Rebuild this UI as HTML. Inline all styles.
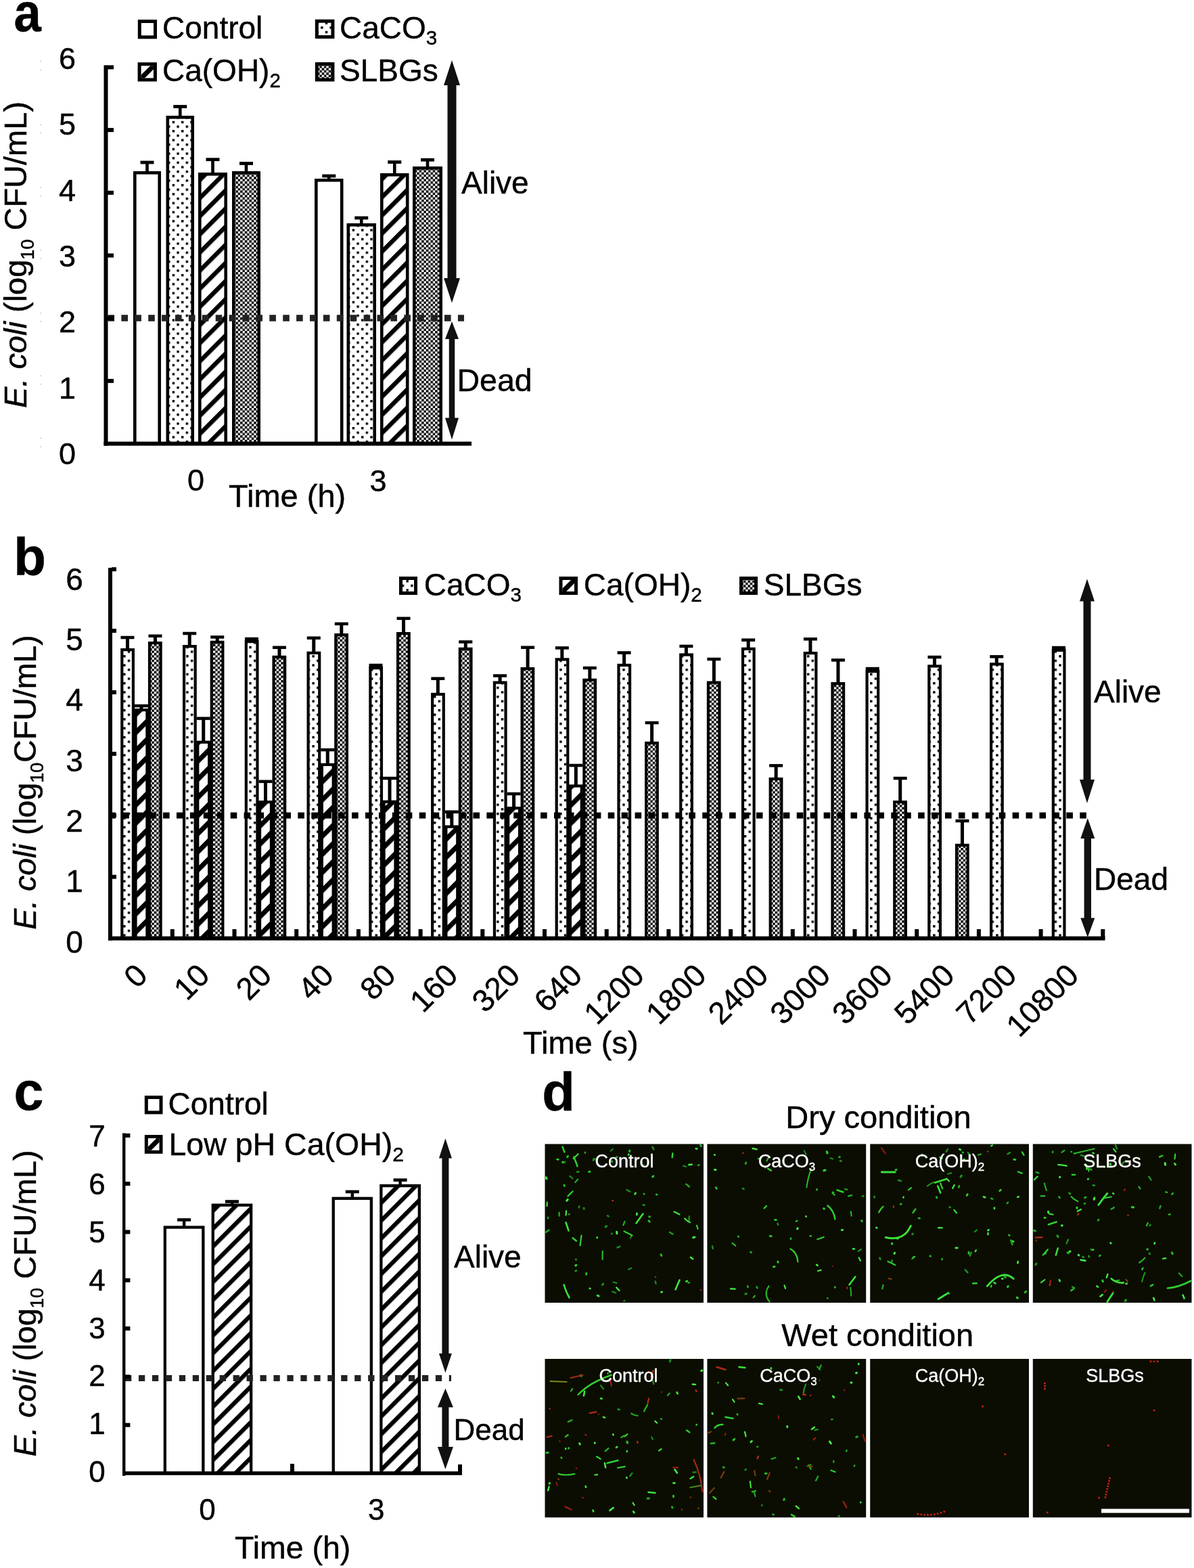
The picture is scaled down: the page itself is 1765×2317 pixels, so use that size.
<!DOCTYPE html><html><head><meta charset="utf-8"><title>Figure</title>
<style>html,body{margin:0;padding:0;background:#fff;overflow:hidden}svg{display:block}text{font-family:"Liberation Sans",Arial,sans-serif;fill:#000;stroke:#000;stroke-width:0.45px}</style></head><body>
<svg width="1765" height="2317" viewBox="0 0 1765 2317">
<defs><pattern id="dotsleg" patternUnits="userSpaceOnUse" x="0" y="0" width="10" height="10"><rect width="10" height="10" fill="#fff"/><rect x="1" y="1" width="3" height="3" fill="#000"/><rect x="6" y="6" width="3" height="3" fill="#000"/></pattern><pattern id="hatchleg" patternUnits="userSpaceOnUse" width="9" height="9" patternTransform="rotate(-45)"><rect width="9" height="9" fill="#fff"/><rect width="9" height="4" fill="#000"/></pattern>
<pattern id="dots" patternUnits="userSpaceOnUse" x="2.0" y="5.9" width="13.3" height="13.3"><rect width="13.3" height="13.3" fill="#fff"/><rect x="0" y="0" width="3.4" height="3.4" fill="#000"/><rect x="6.65" y="6.65" width="3.4" height="3.4" fill="#000"/></pattern>
<pattern id="dotsb" patternUnits="userSpaceOnUse" x="2.6" y="3.8" width="13.3" height="13.3"><rect width="13.3" height="13.3" fill="#fff"/><rect x="0" y="0" width="3.4" height="3.4" fill="#000"/><rect x="6.65" y="6.65" width="3.4" height="3.4" fill="#000"/></pattern>
<pattern id="hatch" patternUnits="userSpaceOnUse" width="18.95" height="18.95" patternTransform="translate(0,20.7) rotate(-45)"><rect width="18.95" height="18.95" fill="#fff"/><rect x="0" y="0" width="18.95" height="6.5" fill="#000"/></pattern>
<pattern id="hatchc" patternUnits="userSpaceOnUse" width="18.6" height="18.6" patternTransform="translate(0,21.65) rotate(-45)"><rect width="18.6" height="18.6" fill="#fff"/><rect x="0" y="0" width="18.6" height="6.3" fill="#000"/></pattern>
<pattern id="hatchb" patternUnits="userSpaceOnUse" width="18.95" height="18.95" patternTransform="translate(0,18.6) rotate(-45)"><rect width="18.95" height="18.95" fill="#fff"/><rect x="0" y="0" width="18.95" height="7.2" fill="#000"/></pattern>
<pattern id="check" patternUnits="userSpaceOnUse" width="6.7" height="6.7"><rect width="6.7" height="6.7" fill="#fff"/><rect x="0" y="0" width="3.5" height="3.5" fill="#000"/><rect x="3.35" y="3.35" width="3.5" height="3.5" fill="#000"/></pattern>
<filter id="soft" x="-5%" y="-5%" width="110%" height="110%"><feGaussianBlur stdDeviation="0.5"/></filter>
</defs>
<rect width="1765" height="2317" fill="#fff"/>
<text transform="translate(20.6,45.9) scale(0.905,1)" font-size="80" font-weight="bold">a</text>
<text transform="translate(38.5,376.5) rotate(-90)" font-size="47" text-anchor="middle"><tspan font-style="italic">E. coli</tspan> (log<tspan font-size="27" dy="11">10</tspan><tspan dy="-11"> CFU/mL)</tspan></text>
<text x="99.50" y="686.00" font-size="45" text-anchor="middle" >0</text>
<text x="99.50" y="588.67" font-size="45" text-anchor="middle" >1</text>
<text x="99.50" y="491.34" font-size="45" text-anchor="middle" >2</text>
<text x="99.50" y="394.01" font-size="45" text-anchor="middle" >3</text>
<text x="99.50" y="296.68" font-size="45" text-anchor="middle" >4</text>
<text x="99.50" y="199.35" font-size="45" text-anchor="middle" >5</text>
<text x="99.50" y="102.02" font-size="45" text-anchor="middle" >6</text>
<rect x="199.30" y="255.30" width="36.40" height="400.30" fill="#fff" stroke="#000" stroke-width="4.6"/>
<rect x="247.80" y="173.30" width="36.90" height="482.30" fill="url(#dots)" stroke="#000" stroke-width="4.6"/>
<rect x="295.30" y="257.30" width="38.40" height="398.30" fill="url(#hatch)" stroke="#000" stroke-width="4.6"/>
<rect x="345.30" y="255.30" width="37.40" height="400.30" fill="url(#check)" stroke="#000" stroke-width="4.6"/>
<rect x="467.30" y="266.30" width="37.90" height="389.30" fill="#fff" stroke="#000" stroke-width="4.6"/>
<rect x="514.80" y="332.30" width="38.90" height="323.30" fill="url(#dots)" stroke="#000" stroke-width="4.6"/>
<rect x="564.30" y="258.30" width="37.90" height="397.30" fill="url(#hatch)" stroke="#000" stroke-width="4.6"/>
<rect x="612.30" y="248.30" width="39.40" height="407.30" fill="url(#check)" stroke="#000" stroke-width="4.6"/>
<rect x="215.20" y="240.00" width="4.60" height="14.00" fill="#000" />
<rect x="207.50" y="237.60" width="20.00" height="4.80" fill="#000" />
<rect x="263.95" y="157.50" width="4.60" height="14.50" fill="#000" />
<rect x="256.25" y="155.10" width="20.00" height="4.80" fill="#000" />
<rect x="312.20" y="235.70" width="4.60" height="20.30" fill="#000" />
<rect x="304.50" y="233.30" width="20.00" height="4.80" fill="#000" />
<rect x="361.70" y="241.50" width="4.60" height="12.50" fill="#000" />
<rect x="354.00" y="239.10" width="20.00" height="4.80" fill="#000" />
<rect x="483.95" y="260.00" width="4.60" height="5.00" fill="#000" />
<rect x="476.25" y="257.60" width="20.00" height="4.80" fill="#000" />
<rect x="531.95" y="322.00" width="4.60" height="9.00" fill="#000" />
<rect x="524.25" y="319.60" width="20.00" height="4.80" fill="#000" />
<rect x="580.95" y="239.50" width="4.60" height="17.50" fill="#000" />
<rect x="573.25" y="237.10" width="20.00" height="4.80" fill="#000" />
<rect x="629.70" y="236.20" width="4.60" height="10.80" fill="#000" />
<rect x="622.00" y="233.80" width="20.00" height="4.80" fill="#000" />
<line x1="159.50" y1="470.00" x2="686.00" y2="470.00" stroke="#222" stroke-width="9.5" stroke-dasharray="9.6 10.3" stroke-dashoffset="0"/>
<rect x="153.50" y="96.40" width="6.00" height="562.20" fill="#000" />
<rect x="153.50" y="652.60" width="543.50" height="6.00" fill="#000" />
<rect x="159.00" y="559.90" width="9.00" height="6.00" fill="#000" />
<rect x="159.00" y="467.20" width="9.00" height="6.00" fill="#000" />
<rect x="159.00" y="374.50" width="9.00" height="6.00" fill="#000" />
<rect x="159.00" y="281.80" width="9.00" height="6.00" fill="#000" />
<rect x="159.00" y="189.10" width="9.00" height="6.00" fill="#000" />
<rect x="159.00" y="96.40" width="9.00" height="6.00" fill="#000" />
<path d="M668.00,89.00 L680.00,126.00 L674.50,126.00 L674.50,411.00 L680.00,411.00 L668.00,447.50 L656.00,411.00 L661.50,411.00 L661.50,126.00 L656.00,126.00 Z" fill="#111"/>
<path d="M668.00,475.00 L678.00,501.00 L672.25,501.00 L672.25,617.50 L678.00,617.50 L668.00,649.50 L658.00,617.50 L663.75,617.50 L663.75,501.00 L658.00,501.00 Z" fill="#111"/>
<text x="682.00" y="286.00" font-size="46" text-anchor="start" >Alive</text>
<text x="675.50" y="577.50" font-size="46.5" text-anchor="start" >Dead</text>
<text x="289.50" y="725.00" font-size="45" text-anchor="middle" >0</text>
<text x="559.00" y="726.00" font-size="45" text-anchor="middle" >3</text>
<text x="338.00" y="748.50" font-size="47" text-anchor="start" >Time (h)</text>
<rect x="206.30" y="31.50" width="23.20" height="23.40" fill="#fff" stroke="#000" stroke-width="5"/>
<rect x="468.30" y="31.20" width="23.60" height="23.40" fill="url(#dots)" stroke="#000" stroke-width="5"/>
<clipPath id="lc1"><rect x="208.60" y="97.20" width="18.30" height="18.20"/></clipPath>
<rect x="208.60" y="97.20" width="18.30" height="18.20" fill="#fff"/>
<polygon clip-path="url(#lc1)" points="178.60,140.75 256.90,62.45 256.90,72.45 178.60,150.75" fill="#000"/>
<rect x="206.10" y="94.70" width="23.30" height="23.20" fill="none" stroke="#000" stroke-width="5"/>
<rect x="468.30" y="94.50" width="23.60" height="23.40" fill="url(#check)" stroke="#000" stroke-width="5"/>
<text x="240.00" y="56.80" font-size="46" text-anchor="start" >Control</text>
<text x="502.00" y="56.80" font-size="46" text-anchor="start" >CaCO<tspan font-size="29.5" dy="9">3</tspan></text>
<text x="240.00" y="120.20" font-size="46" text-anchor="start" >Ca(OH)<tspan font-size="29.5" dy="9">2</tspan></text>
<text x="502.00" y="120.20" font-size="46" text-anchor="start" >SLBGs</text>
<rect x="59.60" y="89.90" width="1.30" height="1.30" fill="#aaa" />
<rect x="59.60" y="102.90" width="1.30" height="1.30" fill="#aaa" />
<rect x="59.60" y="183.60" width="1.30" height="1.30" fill="#aaa" />
<rect x="59.60" y="195.80" width="1.30" height="1.30" fill="#aaa" />
<rect x="59.60" y="276.40" width="1.30" height="1.30" fill="#aaa" />
<rect x="59.60" y="288.60" width="1.30" height="1.30" fill="#aaa" />
<rect x="59.60" y="369.20" width="1.30" height="1.30" fill="#aaa" />
<rect x="59.60" y="381.40" width="1.30" height="1.30" fill="#aaa" />
<rect x="59.60" y="462.10" width="1.30" height="1.30" fill="#aaa" />
<rect x="59.60" y="474.30" width="1.30" height="1.30" fill="#aaa" />
<rect x="59.60" y="554.60" width="1.30" height="1.30" fill="#aaa" />
<rect x="59.60" y="567.10" width="1.30" height="1.30" fill="#aaa" />
<rect x="59.60" y="646.90" width="1.30" height="1.30" fill="#aaa" />
<rect x="59.60" y="659.40" width="1.30" height="1.30" fill="#aaa" />
<text x="20.30" y="849.80" font-size="78" text-anchor="start" font-weight="bold">b</text>
<text transform="translate(52.7,1156) rotate(-90)" font-size="46.5" text-anchor="middle"><tspan font-style="italic">E. coli</tspan> (log<tspan font-size="27" dy="11">10</tspan><tspan dy="-11">CFU/mL)</tspan></text>
<text x="110.00" y="1407.80" font-size="46" text-anchor="middle" >0</text>
<text x="110.00" y="1318.47" font-size="46" text-anchor="middle" >1</text>
<text x="110.00" y="1229.14" font-size="46" text-anchor="middle" >2</text>
<text x="110.00" y="1139.81" font-size="46" text-anchor="middle" >3</text>
<text x="110.00" y="1050.48" font-size="46" text-anchor="middle" >4</text>
<text x="110.00" y="961.15" font-size="46" text-anchor="middle" >5</text>
<text x="110.00" y="871.82" font-size="46" text-anchor="middle" >6</text>
<rect x="180.30" y="960.10" width="16.60" height="426.50" fill="url(#dotsb)" stroke="#000" stroke-width="4.2"/>
<rect x="200.50" y="1049.10" width="16.90" height="337.50" fill="url(#hatchb)" stroke="#000" stroke-width="4.2"/>
<rect x="221.00" y="950.10" width="16.60" height="436.50" fill="url(#check)" stroke="#000" stroke-width="4.2"/>
<rect x="272.07" y="955.10" width="16.60" height="431.50" fill="url(#dotsb)" stroke="#000" stroke-width="4.2"/>
<rect x="292.27" y="1096.70" width="16.90" height="289.90" fill="url(#hatchb)" stroke="#000" stroke-width="4.2"/>
<rect x="312.77" y="948.90" width="16.60" height="437.70" fill="url(#check)" stroke="#000" stroke-width="4.2"/>
<rect x="363.84" y="948.10" width="16.60" height="438.50" fill="url(#dotsb)" stroke="#000" stroke-width="4.2"/>
<rect x="384.04" y="1185.10" width="16.90" height="201.50" fill="url(#hatchb)" stroke="#000" stroke-width="4.2"/>
<rect x="404.54" y="970.85" width="16.60" height="415.75" fill="url(#check)" stroke="#000" stroke-width="4.2"/>
<rect x="455.61" y="964.80" width="16.60" height="421.80" fill="url(#dotsb)" stroke="#000" stroke-width="4.2"/>
<rect x="475.81" y="1129.90" width="16.90" height="256.70" fill="url(#hatchb)" stroke="#000" stroke-width="4.2"/>
<rect x="496.31" y="938.10" width="16.60" height="448.50" fill="url(#check)" stroke="#000" stroke-width="4.2"/>
<rect x="547.38" y="987.10" width="16.60" height="399.50" fill="url(#dotsb)" stroke="#000" stroke-width="4.2"/>
<rect x="567.58" y="1184.70" width="16.90" height="201.90" fill="url(#hatchb)" stroke="#000" stroke-width="4.2"/>
<rect x="588.08" y="936.10" width="16.60" height="450.50" fill="url(#check)" stroke="#000" stroke-width="4.2"/>
<rect x="639.15" y="1025.90" width="16.60" height="360.70" fill="url(#dotsb)" stroke="#000" stroke-width="4.2"/>
<rect x="659.35" y="1221.60" width="16.90" height="165.00" fill="url(#hatchb)" stroke="#000" stroke-width="4.2"/>
<rect x="679.85" y="958.80" width="16.60" height="427.80" fill="url(#check)" stroke="#000" stroke-width="4.2"/>
<rect x="730.92" y="1008.60" width="16.60" height="378.00" fill="url(#dotsb)" stroke="#000" stroke-width="4.2"/>
<rect x="751.12" y="1194.10" width="16.90" height="192.50" fill="url(#hatchb)" stroke="#000" stroke-width="4.2"/>
<rect x="771.62" y="988.10" width="16.60" height="398.50" fill="url(#check)" stroke="#000" stroke-width="4.2"/>
<rect x="822.69" y="974.40" width="16.60" height="412.20" fill="url(#dotsb)" stroke="#000" stroke-width="4.2"/>
<rect x="842.89" y="1161.40" width="16.90" height="225.20" fill="url(#hatchb)" stroke="#000" stroke-width="4.2"/>
<rect x="863.39" y="1004.80" width="16.60" height="381.80" fill="url(#check)" stroke="#000" stroke-width="4.2"/>
<rect x="914.46" y="982.90" width="16.60" height="403.70" fill="url(#dotsb)" stroke="#000" stroke-width="4.2"/>
<rect x="955.16" y="1097.90" width="16.60" height="288.70" fill="url(#check)" stroke="#000" stroke-width="4.2"/>
<rect x="1006.23" y="967.50" width="16.60" height="419.10" fill="url(#dotsb)" stroke="#000" stroke-width="4.2"/>
<rect x="1046.93" y="1008.60" width="16.60" height="378.00" fill="url(#check)" stroke="#000" stroke-width="4.2"/>
<rect x="1098.00" y="958.80" width="16.60" height="427.80" fill="url(#dotsb)" stroke="#000" stroke-width="4.2"/>
<rect x="1138.70" y="1151.00" width="16.60" height="235.60" fill="url(#check)" stroke="#000" stroke-width="4.2"/>
<rect x="1189.77" y="965.10" width="16.60" height="421.50" fill="url(#dotsb)" stroke="#000" stroke-width="4.2"/>
<rect x="1230.47" y="1010.10" width="16.60" height="376.50" fill="url(#check)" stroke="#000" stroke-width="4.2"/>
<rect x="1281.54" y="992.10" width="16.60" height="394.50" fill="url(#dotsb)" stroke="#000" stroke-width="4.2"/>
<rect x="1322.24" y="1185.10" width="16.60" height="201.50" fill="url(#check)" stroke="#000" stroke-width="4.2"/>
<rect x="1373.31" y="984.40" width="16.60" height="402.20" fill="url(#dotsb)" stroke="#000" stroke-width="4.2"/>
<rect x="1414.01" y="1248.90" width="16.60" height="137.70" fill="url(#check)" stroke="#000" stroke-width="4.2"/>
<rect x="1465.08" y="981.40" width="16.60" height="405.20" fill="url(#dotsb)" stroke="#000" stroke-width="4.2"/>
<rect x="1556.85" y="960.90" width="16.60" height="425.70" fill="url(#dotsb)" stroke="#000" stroke-width="4.2"/>
<rect x="185.95" y="942.00" width="5.00" height="17.00" fill="#000" />
<rect x="178.45" y="939.75" width="20.00" height="4.50" fill="#000" />
<rect x="206.45" y="1043.00" width="5.00" height="5.00" fill="#000" />
<rect x="198.95" y="1040.75" width="20.00" height="4.50" fill="#000" />
<rect x="226.95" y="939.75" width="5.00" height="9.25" fill="#000" />
<rect x="219.45" y="937.50" width="20.00" height="4.50" fill="#000" />
<rect x="277.72" y="936.00" width="5.00" height="18.00" fill="#000" />
<rect x="270.22" y="933.75" width="20.00" height="4.50" fill="#000" />
<rect x="298.22" y="1061.60" width="5.00" height="34.00" fill="#000" />
<rect x="290.72" y="1059.35" width="20.00" height="4.50" fill="#000" />
<rect x="318.72" y="941.40" width="5.00" height="6.40" fill="#000" />
<rect x="311.22" y="939.15" width="20.00" height="4.50" fill="#000" />
<rect x="369.49" y="944.00" width="5.00" height="3.00" fill="#000" />
<rect x="361.99" y="941.75" width="20.00" height="4.50" fill="#000" />
<rect x="389.99" y="1154.80" width="5.00" height="29.20" fill="#000" />
<rect x="382.49" y="1152.55" width="20.00" height="4.50" fill="#000" />
<rect x="410.49" y="956.75" width="5.00" height="13.00" fill="#000" />
<rect x="402.99" y="954.50" width="20.00" height="4.50" fill="#000" />
<rect x="461.26" y="942.70" width="5.00" height="21.00" fill="#000" />
<rect x="453.76" y="940.45" width="20.00" height="4.50" fill="#000" />
<rect x="481.76" y="1108.00" width="5.00" height="20.80" fill="#000" />
<rect x="474.26" y="1105.75" width="20.00" height="4.50" fill="#000" />
<rect x="502.26" y="921.80" width="5.00" height="15.20" fill="#000" />
<rect x="494.76" y="919.55" width="20.00" height="4.50" fill="#000" />
<rect x="553.03" y="983.00" width="5.00" height="3.00" fill="#000" />
<rect x="545.53" y="980.75" width="20.00" height="4.50" fill="#000" />
<rect x="573.53" y="1150.00" width="5.00" height="33.60" fill="#000" />
<rect x="566.03" y="1147.75" width="20.00" height="4.50" fill="#000" />
<rect x="594.03" y="913.80" width="5.00" height="21.20" fill="#000" />
<rect x="586.53" y="911.55" width="20.00" height="4.50" fill="#000" />
<rect x="644.80" y="1002.70" width="5.00" height="22.10" fill="#000" />
<rect x="637.30" y="1000.45" width="20.00" height="4.50" fill="#000" />
<rect x="665.30" y="1199.70" width="5.00" height="20.80" fill="#000" />
<rect x="657.80" y="1197.45" width="20.00" height="4.50" fill="#000" />
<rect x="685.80" y="948.50" width="5.00" height="9.20" fill="#000" />
<rect x="678.30" y="946.25" width="20.00" height="4.50" fill="#000" />
<rect x="736.57" y="998.50" width="5.00" height="9.00" fill="#000" />
<rect x="729.07" y="996.25" width="20.00" height="4.50" fill="#000" />
<rect x="757.07" y="1173.00" width="5.00" height="20.00" fill="#000" />
<rect x="749.57" y="1170.75" width="20.00" height="4.50" fill="#000" />
<rect x="777.57" y="956.70" width="5.00" height="30.30" fill="#000" />
<rect x="770.07" y="954.45" width="20.00" height="4.50" fill="#000" />
<rect x="828.34" y="957.40" width="5.00" height="15.90" fill="#000" />
<rect x="820.84" y="955.15" width="20.00" height="4.50" fill="#000" />
<rect x="848.84" y="1131.00" width="5.00" height="29.30" fill="#000" />
<rect x="841.34" y="1128.75" width="20.00" height="4.50" fill="#000" />
<rect x="869.34" y="987.00" width="5.00" height="16.70" fill="#000" />
<rect x="861.84" y="984.75" width="20.00" height="4.50" fill="#000" />
<rect x="920.11" y="964.50" width="5.00" height="17.30" fill="#000" />
<rect x="912.61" y="962.25" width="20.00" height="4.50" fill="#000" />
<rect x="961.11" y="1068.00" width="5.00" height="28.80" fill="#000" />
<rect x="953.61" y="1065.75" width="20.00" height="4.50" fill="#000" />
<rect x="1011.88" y="954.90" width="5.00" height="11.50" fill="#000" />
<rect x="1004.38" y="952.65" width="20.00" height="4.50" fill="#000" />
<rect x="1052.88" y="974.00" width="5.00" height="33.50" fill="#000" />
<rect x="1045.38" y="971.75" width="20.00" height="4.50" fill="#000" />
<rect x="1103.65" y="945.70" width="5.00" height="12.00" fill="#000" />
<rect x="1096.15" y="943.45" width="20.00" height="4.50" fill="#000" />
<rect x="1144.65" y="1131.30" width="5.00" height="18.60" fill="#000" />
<rect x="1137.15" y="1129.05" width="20.00" height="4.50" fill="#000" />
<rect x="1195.42" y="944.30" width="5.00" height="19.70" fill="#000" />
<rect x="1187.92" y="942.05" width="20.00" height="4.50" fill="#000" />
<rect x="1236.42" y="975.40" width="5.00" height="33.60" fill="#000" />
<rect x="1228.92" y="973.15" width="20.00" height="4.50" fill="#000" />
<rect x="1287.19" y="988.00" width="5.00" height="3.00" fill="#000" />
<rect x="1279.69" y="985.75" width="20.00" height="4.50" fill="#000" />
<rect x="1328.19" y="1150.00" width="5.00" height="34.00" fill="#000" />
<rect x="1320.69" y="1147.75" width="20.00" height="4.50" fill="#000" />
<rect x="1378.96" y="971.00" width="5.00" height="12.30" fill="#000" />
<rect x="1371.46" y="968.75" width="20.00" height="4.50" fill="#000" />
<rect x="1419.96" y="1213.00" width="5.00" height="34.80" fill="#000" />
<rect x="1412.46" y="1210.75" width="20.00" height="4.50" fill="#000" />
<rect x="1470.73" y="970.30" width="5.00" height="10.00" fill="#000" />
<rect x="1463.23" y="968.05" width="20.00" height="4.50" fill="#000" />
<rect x="1562.50" y="957.00" width="5.00" height="2.80" fill="#000" />
<rect x="1555.00" y="954.75" width="20.00" height="4.50" fill="#000" />
<line x1="166.00" y1="1205.00" x2="1607.00" y2="1205.00" stroke="#000" stroke-width="9.2" stroke-dasharray="9.6 10.33" stroke-dashoffset="4.7"/>
<rect x="160.00" y="839.00" width="6.00" height="550.60" fill="#000" />
<rect x="160.00" y="1383.60" width="1473.50" height="6.00" fill="#000" />
<rect x="165.00" y="1292.70" width="7.00" height="6.00" fill="#000" />
<rect x="165.00" y="1201.80" width="7.00" height="6.00" fill="#000" />
<rect x="165.00" y="1110.90" width="7.00" height="6.00" fill="#000" />
<rect x="165.00" y="1020.00" width="7.00" height="6.00" fill="#000" />
<rect x="165.00" y="929.10" width="7.00" height="6.00" fill="#000" />
<rect x="165.00" y="838.20" width="7.00" height="6.00" fill="#000" />
<rect x="251.80" y="1373.00" width="6.00" height="13.60" fill="#000" />
<rect x="343.50" y="1373.00" width="6.00" height="13.60" fill="#000" />
<rect x="435.20" y="1373.00" width="6.00" height="13.60" fill="#000" />
<rect x="526.90" y="1373.00" width="6.00" height="13.60" fill="#000" />
<rect x="618.60" y="1373.00" width="6.00" height="13.60" fill="#000" />
<rect x="710.30" y="1373.00" width="6.00" height="13.60" fill="#000" />
<rect x="802.00" y="1373.00" width="6.00" height="13.60" fill="#000" />
<rect x="893.70" y="1373.00" width="6.00" height="13.60" fill="#000" />
<rect x="985.40" y="1373.00" width="6.00" height="13.60" fill="#000" />
<rect x="1077.10" y="1373.00" width="6.00" height="13.60" fill="#000" />
<rect x="1168.80" y="1373.00" width="6.00" height="13.60" fill="#000" />
<rect x="1260.50" y="1373.00" width="6.00" height="13.60" fill="#000" />
<rect x="1352.20" y="1373.00" width="6.00" height="13.60" fill="#000" />
<rect x="1443.90" y="1373.00" width="6.00" height="13.60" fill="#000" />
<rect x="1535.60" y="1373.00" width="6.00" height="13.60" fill="#000" />
<rect x="1627.30" y="1373.00" width="6.00" height="13.60" fill="#000" />
<path d="M1607.00,855.50 L1618.00,888.50 L1612.50,888.50 L1612.50,1152.00 L1618.00,1152.00 L1607.00,1186.70 L1596.00,1152.00 L1601.50,1152.00 L1601.50,888.50 L1596.00,888.50 Z" fill="#111"/>
<path d="M1607.80,1209.00 L1618.30,1239.00 L1613.00,1239.00 L1613.00,1356.50 L1618.30,1356.50 L1607.80,1385.00 L1597.30,1356.50 L1602.60,1356.50 L1602.60,1239.00 L1597.30,1239.00 Z" fill="#111"/>
<text x="1617.00" y="1038.00" font-size="46" text-anchor="start" >Alive</text>
<text x="1617.00" y="1314.50" font-size="46" text-anchor="start" >Dead</text>
<text transform="translate(220.60,1444.00) rotate(-45)" font-size="46" text-anchor="end">0</text>
<text transform="translate(312.37,1444.00) rotate(-45)" font-size="46" text-anchor="end">10</text>
<text transform="translate(404.14,1444.00) rotate(-45)" font-size="46" text-anchor="end">20</text>
<text transform="translate(495.91,1444.00) rotate(-45)" font-size="46" text-anchor="end">40</text>
<text transform="translate(587.68,1444.00) rotate(-45)" font-size="46" text-anchor="end">80</text>
<text transform="translate(679.45,1444.00) rotate(-45)" font-size="46" text-anchor="end">160</text>
<text transform="translate(771.22,1444.00) rotate(-45)" font-size="46" text-anchor="end">320</text>
<text transform="translate(862.99,1444.00) rotate(-45)" font-size="46" text-anchor="end">640</text>
<text transform="translate(954.76,1444.00) rotate(-45)" font-size="46" text-anchor="end">1200</text>
<text transform="translate(1046.53,1444.00) rotate(-45)" font-size="46" text-anchor="end">1800</text>
<text transform="translate(1138.30,1444.00) rotate(-45)" font-size="46" text-anchor="end">2400</text>
<text transform="translate(1230.07,1444.00) rotate(-45)" font-size="46" text-anchor="end">3000</text>
<text transform="translate(1321.84,1444.00) rotate(-45)" font-size="46" text-anchor="end">3600</text>
<text transform="translate(1413.61,1444.00) rotate(-45)" font-size="46" text-anchor="end">5400</text>
<text transform="translate(1505.38,1444.00) rotate(-45)" font-size="46" text-anchor="end">7200</text>
<text transform="translate(1597.15,1444.00) rotate(-45)" font-size="46" text-anchor="end">10800</text>
<text x="773.00" y="1556.50" font-size="47" text-anchor="start" >Time (s)</text>
<rect x="592.50" y="854.50" width="22.00" height="22.00" fill="url(#dots)" stroke="#000" stroke-width="5"/>
<clipPath id="lc2"><rect x="831.50" y="857.00" width="17.50" height="17.00"/></clipPath>
<rect x="831.50" y="857.00" width="17.50" height="17.00" fill="#fff"/>
<polygon clip-path="url(#lc2)" points="801.50,899.55 879.00,822.05 879.00,832.05 801.50,909.55" fill="#000"/>
<rect x="829.00" y="854.50" width="22.50" height="22.00" fill="none" stroke="#000" stroke-width="5"/>
<rect x="1095.50" y="854.50" width="22.00" height="22.00" fill="url(#check)" stroke="#000" stroke-width="5"/>
<text x="626.80" y="880.00" font-size="46" text-anchor="start" >CaCO<tspan font-size="29.5" dy="9">3</tspan></text>
<text x="862.80" y="880.00" font-size="46" text-anchor="start" >Ca(OH)<tspan font-size="29.5" dy="9">2</tspan></text>
<text x="1128.80" y="880.00" font-size="46" text-anchor="start" >SLBGs</text>
<text x="20.50" y="1639.70" font-size="79" text-anchor="start" font-weight="bold">c</text>
<text transform="translate(53,1926) rotate(-90)" font-size="47" text-anchor="middle"><tspan font-style="italic">E. coli</tspan> (log<tspan font-size="27" dy="11">10</tspan><tspan dy="-11"> CFU/mL)</tspan></text>
<text x="143.50" y="2190.00" font-size="44" text-anchor="middle" >0</text>
<text x="143.50" y="2119.20" font-size="44" text-anchor="middle" >1</text>
<text x="143.50" y="2048.40" font-size="44" text-anchor="middle" >2</text>
<text x="143.50" y="1977.60" font-size="44" text-anchor="middle" >3</text>
<text x="143.50" y="1906.80" font-size="44" text-anchor="middle" >4</text>
<text x="143.50" y="1836.00" font-size="44" text-anchor="middle" >5</text>
<text x="143.50" y="1765.20" font-size="44" text-anchor="middle" >6</text>
<text x="143.50" y="1694.40" font-size="44" text-anchor="middle" >7</text>
<rect x="243.85" y="1813.55" width="56.50" height="363.45" fill="#fff" stroke="#000" stroke-width="4.3"/>
<rect x="314.75" y="1780.75" width="56.40" height="396.25" fill="url(#hatchc)" stroke="#000" stroke-width="4.3"/>
<rect x="492.75" y="1770.85" width="56.10" height="406.15" fill="#fff" stroke="#000" stroke-width="4.3"/>
<rect x="563.35" y="1752.15" width="56.50" height="424.85" fill="url(#hatchc)" stroke="#000" stroke-width="4.3"/>
<rect x="269.90" y="1802.50" width="4.40" height="9.90" fill="#000" />
<rect x="262.10" y="1800.20" width="20.00" height="4.60" fill="#000" />
<rect x="340.75" y="1775.50" width="4.40" height="4.10" fill="#000" />
<rect x="332.95" y="1773.20" width="20.00" height="4.60" fill="#000" />
<rect x="518.60" y="1761.00" width="4.40" height="8.70" fill="#000" />
<rect x="510.80" y="1758.70" width="20.00" height="4.60" fill="#000" />
<rect x="589.40" y="1743.70" width="4.40" height="7.30" fill="#000" />
<rect x="581.60" y="1741.40" width="20.00" height="4.60" fill="#000" />
<line x1="185.00" y1="2036.50" x2="667.00" y2="2036.50" stroke="#222" stroke-width="9" stroke-dasharray="9.3 10.65" stroke-dashoffset="0"/>
<rect x="181.00" y="1674.50" width="4.40" height="506.30" fill="#000" />
<rect x="181.00" y="2174.25" width="502.00" height="5.50" fill="#000" />
<rect x="184.00" y="2102.70" width="8.40" height="6.00" fill="#000" />
<rect x="184.00" y="2031.40" width="8.40" height="6.00" fill="#000" />
<rect x="184.00" y="1960.10" width="8.40" height="6.00" fill="#000" />
<rect x="184.00" y="1888.80" width="8.40" height="6.00" fill="#000" />
<rect x="184.00" y="1817.50" width="8.40" height="6.00" fill="#000" />
<rect x="184.00" y="1746.20" width="8.40" height="6.00" fill="#000" />
<rect x="184.00" y="1674.90" width="8.40" height="6.00" fill="#000" />
<rect x="429.00" y="2163.00" width="6.00" height="14.00" fill="#000" />
<rect x="677.00" y="2164.00" width="6.00" height="13.00" fill="#000" />
<path d="M658.40,1682.30 L667.90,1711.60 L663.40,1711.60 L663.40,2000.00 L667.90,2000.00 L658.40,2028.40 L648.90,2000.00 L653.40,2000.00 L653.40,1711.60 L648.90,1711.60 Z" fill="#111"/>
<path d="M658.40,2051.70 L669.90,2079.60 L663.40,2079.60 L663.40,2138.00 L669.90,2138.00 L658.40,2171.00 L646.90,2138.00 L653.40,2138.00 L653.40,2079.60 L646.90,2079.60 Z" fill="#111"/>
<text x="671.00" y="1872.50" font-size="46" text-anchor="start" >Alive</text>
<text x="670.50" y="2127.50" font-size="44" text-anchor="start" >Dead</text>
<text x="306.50" y="2246.00" font-size="44" text-anchor="middle" >0</text>
<text x="556.30" y="2246.00" font-size="44" text-anchor="middle" >3</text>
<text x="347.00" y="2303.00" font-size="46.5" text-anchor="start" >Time (h)</text>
<rect x="216.30" y="1621.50" width="21.70" height="22.40" fill="#fff" stroke="#000" stroke-width="5"/>
<clipPath id="lc3"><rect x="218.80" y="1682.00" width="16.70" height="17.80"/></clipPath>
<rect x="218.80" y="1682.00" width="16.70" height="17.80" fill="#fff"/>
<polygon clip-path="url(#lc3)" points="188.80,1724.55 265.50,1647.85 265.50,1657.85 188.80,1734.55" fill="#000"/>
<rect x="216.30" y="1679.50" width="21.70" height="22.80" fill="none" stroke="#000" stroke-width="5"/>
<text x="248.50" y="1646.50" font-size="46" text-anchor="start" >Control</text>
<text x="249.50" y="1706.50" font-size="46.5" text-anchor="start" >Low pH Ca(OH)<tspan font-size="30" dy="9">2</tspan></text>
<text x="801.20" y="1641.00" font-size="79.5" text-anchor="start" font-weight="bold">d</text>
<text x="1298.50" y="1667.30" font-size="47" text-anchor="middle" >Dry condition</text>
<text x="1297.20" y="1988.60" font-size="47" text-anchor="middle" >Wet condition</text>
<rect x="805.50" y="1690.50" width="234.50" height="234.50" fill="#0b0d02" />
<svg x="805.50" y="1690.50" width="234.50" height="234.50" overflow="hidden"><g filter="url(#soft)" fill="none" stroke-linecap="round">
<path d="M106.1,129.9 L106.5,132.2" stroke="#45ee45" stroke-width="3.1"/><path d="M46.4,186.9 L45.2,187.7" stroke="#23a523" stroke-width="2.5"/><path d="M72.4,21.9 L71.5,23.9" stroke="#1d8f1d" stroke-width="2.9"/><path d="M92.4,105.9 L94.2,106.9" stroke="#1d8f1d" stroke-width="2.4"/><path d="M123.9,15.3 L123.7,16.1" stroke="#2fcf2f" stroke-width="3.0"/><path d="M77.4,137.8 L77.0,138.6" stroke="#2fcf2f" stroke-width="2.8"/><path d="M155.2,107.4 L154.2,107.4" stroke="#23a523" stroke-width="3.1"/><path d="M164.7,74.6 L165.6,74.7" stroke="#28b828" stroke-width="2.9"/><path d="M27.4,26.8 L26.3,26.9" stroke="#3de23d" stroke-width="3.1"/><path d="M1.7,49.3 L2.6,51.4" stroke="#45ee45" stroke-width="3.0"/><path d="M98.5,132.2 L99.1,132.9" stroke="#1d8f1d" stroke-width="2.5"/><path d="M77.7,223.8 L79.6,224.6" stroke="#3de23d" stroke-width="3.0"/><path d="M4.7,108.4 L4.4,109.9" stroke="#1d8f1d" stroke-width="2.8"/><path d="M45.8,170.3 L46.1,171.1" stroke="#1d8f1d" stroke-width="2.7"/><path d="M229.6,1.2 L230.9,3.0" stroke="#23a523" stroke-width="3.1"/><path d="M50.8,91.8 L50.3,94.0" stroke="#1d8f1d" stroke-width="2.4"/><path d="M35.6,103.6 L35.9,104.0" stroke="#23a523" stroke-width="2.6"/><path d="M18.1,22.7 L19.8,22.8" stroke="#2fcf2f" stroke-width="2.7"/><path d="M144.6,31.0 L146.2,31.7" stroke="#23a523" stroke-width="2.7"/><path d="M146.2,73.3 L146.9,74.0" stroke="#23a523" stroke-width="2.6"/><path d="M172.9,218.6 L172.0,218.9" stroke="#45ee45" stroke-width="2.9"/><path d="M98.9,25.7 L99.4,26.1" stroke="#28b828" stroke-width="3.0"/><path d="M61.3,191.0 L61.2,192.7" stroke="#28b828" stroke-width="3.1"/><path d="M227.9,30.8 L226.6,31.5" stroke="#1d8f1d" stroke-width="2.9"/><path d="M66.1,213.4 L67.0,213.5" stroke="#3de23d" stroke-width="2.7"/><path d="M59.5,12.2 L59.3,13.3" stroke="#23a523" stroke-width="2.5"/><path d="M86.3,206.4 L84.7,208.3" stroke="#1d8f1d" stroke-width="2.8"/><path d="M221.4,137.6 L219.1,138.3" stroke="#45ee45" stroke-width="3.0"/><path d="M223.1,6.7 L224.8,7.1" stroke="#45ee45" stroke-width="2.6"/><path d="M34.0,18.2 L33.0,19.2" stroke="#28b828" stroke-width="3.1"/><path d="M171.4,163.3 L172.4,165.1" stroke="#28b828" stroke-width="2.9"/><path d="M210.2,202.5 L209.0,203.1" stroke="#3de23d" stroke-width="2.9"/><path d="M145.2,89.9 L146.9,90.3" stroke="#23a523" stroke-width="2.5"/><path d="M28.4,60.7 L28.9,61.9" stroke="#28b828" stroke-width="3.0"/><path d="M136.0,102.5 L135.8,104.6" stroke="#3de23d" stroke-width="2.8"/><path d="M73.3,22.1 L73.8,22.3" stroke="#1d8f1d" stroke-width="3.0"/><path d="M153.5,113.2 L154.8,115.0" stroke="#28b828" stroke-width="2.9"/><path d="M49.8,40.8 L47.6,41.3" stroke="#1d8f1d" stroke-width="2.8"/><path d="M57.6,94.8 L57.8,95.8" stroke="#1d8f1d" stroke-width="3.0"/><path d="M213.3,204.7 L212.1,205.1" stroke="#23a523" stroke-width="2.6"/><path d="M33.7,81.9 L32.3,83.7" stroke="#3de23d" stroke-width="3.2"/><path d="M66.5,40.8 L65.1,41.1" stroke="#28b828" stroke-width="3.1"/><path d="M91.0,121.4 L89.4,122.3" stroke="#1d8f1d" stroke-width="3.2"/><path d="M106.0,19.2 L106.6,19.3" stroke="#23a523" stroke-width="3.0"/><path d="M134.0,72.3 L133.1,74.2" stroke="#3de23d" stroke-width="2.7"/><path d="M46.2,179.0 L45.4,179.6" stroke="#2fcf2f" stroke-width="3.2"/><path d="M29.2,26.7 L27.9,27.6" stroke="#1d8f1d" stroke-width="3.2"/><path d="M160.2,47.4 L159.3,48.5" stroke="#2fcf2f" stroke-width="3.0"/><path d="M125.3,9.9 L125.2,10.8" stroke="#28b828" stroke-width="3.2"/><path d="M117.7,231.6 L117.0,231.9" stroke="#1d8f1d" stroke-width="2.5"/><path d="M215.4,167.4 L218.6,169.7" stroke="#45ee45" stroke-width="2.5"/><path d="M5.9,127.1 L1.2,130.5" stroke="#23a523" stroke-width="2.6"/><path d="M110.8,151.3 L107.0,153.0" stroke="#1d8f1d" stroke-width="2.5"/><path d="M217.2,30.3 L212.9,30.6" stroke="#45ee45" stroke-width="2.6"/><path d="M127.8,183.3 L123.7,185.3" stroke="#1d8f1d" stroke-width="2.2"/><path d="M21.0,100.9 L21.2,106.3" stroke="#28b828" stroke-width="2.0"/><path d="M188.8,13.6 L188.2,19.9" stroke="#2fcf2f" stroke-width="2.4"/><path d="M213.3,107.0 L212.9,114.0" stroke="#1d8f1d" stroke-width="2.4"/><path d="M100.8,204.1 L106.1,205.6" stroke="#1d8f1d" stroke-width="2.1"/><path d="M120.8,67.4 L126.0,70.4" stroke="#1d8f1d" stroke-width="2.3"/><path d="M208.8,59.3 L213.4,62.9" stroke="#23a523" stroke-width="2.5"/><path d="M224.5,120.2 L226.0,125.5" stroke="#2fcf2f" stroke-width="2.1"/><path d="M3.3,86.2 L3.0,91.6" stroke="#3de23d" stroke-width="2.2"/><path d="M184.4,130.4 L188.9,133.0" stroke="#1d8f1d" stroke-width="2.6"/><path d="M105.7,211.9 L109.9,216.6" stroke="#45ee45" stroke-width="2.3"/><path d="M31.5,98.8 L31.0,105.1" stroke="#45ee45" stroke-width="2.1"/><path d="M100.4,7.4 L97.0,10.2" stroke="#1d8f1d" stroke-width="2.0"/><path d="M48.6,52.1 L44.8,56.6" stroke="#28b828" stroke-width="2.1"/><path d="M118.0,114.6 L115.9,119.7" stroke="#23a523" stroke-width="2.4"/><path d="M163.2,202.8 L164.1,206.3" stroke="#1d8f1d" stroke-width="2.3"/><path d="M36.6,47.3 L41.0,50.9" stroke="#1d8f1d" stroke-width="2.1"/><path d="M127.9,135.4 L126.4,139.1" stroke="#1d8f1d" stroke-width="2.2"/><path d="M41.2,138.9 L46.3,143.1" stroke="#2fcf2f" stroke-width="2.6"/><path d="M204.5,32.3 L208.7,33.5" stroke="#1d8f1d" stroke-width="2.2"/><path d="M99.7,217.9 L104.7,220.0" stroke="#1d8f1d" stroke-width="2.2"/><path d="M159.0,4.2 L160.9,8.0" stroke="#1d8f1d" stroke-width="2.5"/><path d="M85.3,158.3 Q84.7,164.4 85.2,170.5" stroke="#28b828" stroke-width="2.2"/><path d="M49.1,15.0 Q45.3,18.0 42.1,21.5" stroke="#3de23d" stroke-width="2.2"/><path d="M206.6,110.0 Q210.0,113.8 214.6,115.9" stroke="#3de23d" stroke-width="2.2"/><path d="M230.0,215.5 L230.5,215.8" stroke="#a01c12" stroke-width="2.2"/><path d="M158.9,19.7 L159.0,20.1" stroke="#b82a18" stroke-width="2.2"/><path d="M99.8,83.7 L100.8,83.7" stroke="#b82a18" stroke-width="2.2"/><path d="M163.5,196.1 L163.7,197.1" stroke="#7a3a10" stroke-width="2.2"/><path d="M135,117 L145,103" stroke="#3be03b" stroke-width="2.6"/><path d="M28,208 Q31,218 36,227" stroke="#3be03b" stroke-width="2.6"/><path d="M193,215 L199,201" stroke="#40e840" stroke-width="2.6"/><path d="M52,150 L54,135" stroke="#2fcf2f" stroke-width="2.2"/><path d="M117,129 L129,135" stroke="#2fcf2f" stroke-width="2.2"/><path d="M191,100 L199,104" stroke="#3be03b" stroke-width="2.4"/><path d="M34,77 L41,70" stroke="#2fcf2f" stroke-width="2.4"/><path d="M43,19 L48,33" stroke="#2fcf2f" stroke-width="2.4"/><path d="M26,4 L29,12" stroke="#2fcf2f" stroke-width="2.4"/><path d="M31,116 L35,128" stroke="#3be03b" stroke-width="2.6"/>
</g></svg>
<text x="923.0" y="1724.5" font-size="27" text-anchor="middle" style="fill:#fff;stroke:#fff;stroke-width:0.35px">Control</text>
<rect x="1045.40" y="1690.50" width="234.80" height="234.50" fill="#0b0d02" />
<svg x="1045.40" y="1690.50" width="234.80" height="234.50" overflow="hidden"><g filter="url(#soft)" fill="none" stroke-linecap="round">
<path d="M172.2,95.3 L173.1,95.6" stroke="#2fcf2f" stroke-width="3.0"/><path d="M77.8,21.3 L75.6,21.8" stroke="#1d8f1d" stroke-width="2.9"/><path d="M45.7,136.3 L46.4,137.2" stroke="#28b828" stroke-width="2.5"/><path d="M174.6,38.5 L172.4,39.3" stroke="#2fcf2f" stroke-width="3.1"/><path d="M161.6,178.2 L163.2,179.5" stroke="#45ee45" stroke-width="2.5"/><path d="M186.4,71.5 L185.7,71.5" stroke="#28b828" stroke-width="3.1"/><path d="M12.8,63.9 L14.0,66.0" stroke="#28b828" stroke-width="2.9"/><path d="M133.7,124.3 L133.2,125.5" stroke="#45ee45" stroke-width="3.0"/><path d="M177.6,227.8 L178.1,228.0" stroke="#23a523" stroke-width="2.6"/><path d="M104.0,117.4 L104.8,119.3" stroke="#1d8f1d" stroke-width="2.5"/><path d="M59.7,210.0 L60.1,211.5" stroke="#23a523" stroke-width="2.8"/><path d="M196.7,24.8 L198.0,25.1" stroke="#1d8f1d" stroke-width="2.9"/><path d="M176.8,11.3 L177.6,13.5" stroke="#2fcf2f" stroke-width="3.2"/><path d="M200.3,126.8 L198.7,127.1" stroke="#45ee45" stroke-width="2.7"/><path d="M123.5,139.2 L123.6,140.4" stroke="#28b828" stroke-width="2.6"/><path d="M215.5,154.9 L217.5,155.0" stroke="#3de23d" stroke-width="2.6"/><path d="M10.9,37.9 L12.9,38.3" stroke="#45ee45" stroke-width="2.7"/><path d="M92.9,135.9 L94.8,136.3" stroke="#28b828" stroke-width="3.1"/><path d="M99.9,111.9 L102.3,112.3" stroke="#2fcf2f" stroke-width="2.5"/><path d="M189.1,211.3 L188.9,212.0" stroke="#2fcf2f" stroke-width="2.5"/><path d="M145.9,106.6 L146.3,107.4" stroke="#3de23d" stroke-width="2.5"/><path d="M85.4,33.7 L86.3,34.7" stroke="#23a523" stroke-width="2.9"/><path d="M99.6,181.2 L98.1,181.4" stroke="#2fcf2f" stroke-width="3.0"/><path d="M57.5,27.2 L56.6,29.3" stroke="#23a523" stroke-width="2.7"/><path d="M64.0,159.4 L65.3,160.4" stroke="#23a523" stroke-width="2.6"/><path d="M58.0,221.2 L56.5,221.6" stroke="#1d8f1d" stroke-width="3.1"/><path d="M10.6,16.0 L11.6,16.1" stroke="#45ee45" stroke-width="2.4"/><path d="M52.5,65.7 L54.2,66.6" stroke="#1d8f1d" stroke-width="2.6"/><path d="M228.2,113.0 L228.8,114.1" stroke="#28b828" stroke-width="3.0"/><path d="M195.9,19.0 L195.2,19.3" stroke="#23a523" stroke-width="3.0"/><path d="M104.3,173.7 L104.8,174.8" stroke="#2fcf2f" stroke-width="2.9"/><path d="M231.0,76.6 L229.6,77.4" stroke="#1d8f1d" stroke-width="2.5"/><path d="M152.2,135.7 L153.6,136.0" stroke="#28b828" stroke-width="2.5"/><path d="M133.0,113.3 L131.4,114.3" stroke="#28b828" stroke-width="2.4"/><path d="M73.1,211.2 L74.1,212.6" stroke="#1d8f1d" stroke-width="3.0"/><path d="M162.4,66.9 L162.0,67.6" stroke="#28b828" stroke-width="2.7"/><path d="M213.6,75.7 L208.7,77.0" stroke="#23a523" stroke-width="2.6"/><path d="M212.4,99.8 L213.2,106.1" stroke="#28b828" stroke-width="2.1"/><path d="M224.2,167.8 L226.5,172.6" stroke="#3de23d" stroke-width="2.2"/><path d="M87.5,91.4 L84.2,95.0" stroke="#2fcf2f" stroke-width="2.2"/><path d="M89.7,36.2 L94.4,39.1" stroke="#2fcf2f" stroke-width="2.5"/><path d="M203.6,66.6 L207.1,67.2" stroke="#23a523" stroke-width="2.1"/><path d="M67.1,6.5 L73.4,7.8" stroke="#45ee45" stroke-width="2.3"/><path d="M182.1,20.8 L185.7,22.0" stroke="#1d8f1d" stroke-width="2.2"/><path d="M7.5,150.8 L8.5,154.5" stroke="#1d8f1d" stroke-width="2.4"/><path d="M114.1,209.0 L115.6,213.4" stroke="#45ee45" stroke-width="2.2"/><path d="M227.6,155.5 L223.3,158.5" stroke="#23a523" stroke-width="2.0"/><path d="M143.3,9.9 L146.1,15.4" stroke="#1d8f1d" stroke-width="2.0"/><path d="M90.3,20.3 L88.1,24.9" stroke="#23a523" stroke-width="2.3"/><path d="M168.3,186.3 L163.5,187.6" stroke="#45ee45" stroke-width="2.1"/><path d="M37.1,146.6 L41.8,150.2" stroke="#28b828" stroke-width="2.3"/><path d="M70.6,224.1 L68.2,226.9" stroke="#28b828" stroke-width="2.2"/><path d="M34.6,213.8 L41.2,214.2" stroke="#45ee45" stroke-width="2.3"/><path d="M185.1,72.7 L188.4,75.4" stroke="#28b828" stroke-width="2.1"/><path d="M172.3,137.5 Q167.6,139.4 162.8,140.7" stroke="#2fcf2f" stroke-width="2.2"/><path d="M211.8,212.0 Q212.9,218.0 212.6,224.1" stroke="#23a523" stroke-width="2.2"/><path d="M206.8,211.7 L206.9,213.7" stroke="#a01c12" stroke-width="2.2"/><path d="M53.5,13.4 L52.5,13.5" stroke="#7a3a10" stroke-width="2.2"/><path d="M185.7,180.4 L185.2,180.5" stroke="#8a1a10" stroke-width="2.2"/><path d="M178,91 Q187,98 189,111" stroke="#2fcf2f" stroke-width="2.4"/><path d="M123,155 Q133,160 134,174" stroke="#2fcf2f" stroke-width="2.2"/><path d="M91,210 Q83,222 92,233" stroke="#28b828" stroke-width="2.2"/><path d="M210,208 L219,196" stroke="#3be03b" stroke-width="2.6"/><path d="M147,64 Q149,48 154,37" stroke="#28b828" stroke-width="2"/><path d="M192,68 L201,71" stroke="#2fcf2f" stroke-width="2.4"/>
</g></svg>
<text x="1163.0" y="1724.5" font-size="27" text-anchor="middle" style="fill:#fff;stroke:#fff;stroke-width:0.35px">CaCO<tspan font-size="17" dy="5">3</tspan></text>
<rect x="1286.20" y="1690.50" width="234.80" height="234.50" fill="#0b0d02" />
<svg x="1286.20" y="1690.50" width="234.80" height="234.50" overflow="hidden"><g filter="url(#soft)" fill="none" stroke-linecap="round">
<path d="M204.2,210.1 L203.3,211.2" stroke="#2fcf2f" stroke-width="2.9"/><path d="M38.9,38.0 L37.8,38.3" stroke="#28b828" stroke-width="3.0"/><path d="M32.4,172.1 L32.2,173.8" stroke="#23a523" stroke-width="2.5"/><path d="M180.7,1.7 L178.9,2.9" stroke="#2fcf2f" stroke-width="2.5"/><path d="M64.5,166.9 L64.1,167.4" stroke="#45ee45" stroke-width="2.5"/><path d="M175.4,126.8 L174.2,127.7" stroke="#3de23d" stroke-width="2.7"/><path d="M212.5,22.8 L214.7,23.1" stroke="#2fcf2f" stroke-width="2.7"/><path d="M115.4,219.2 L116.7,221.2" stroke="#28b828" stroke-width="2.5"/><path d="M71.6,109.5 L73.5,109.9" stroke="#28b828" stroke-width="2.5"/><path d="M156.6,156.9 L155.6,158.7" stroke="#3de23d" stroke-width="2.4"/><path d="M88.6,165.5 L89.5,165.8" stroke="#23a523" stroke-width="3.0"/><path d="M198.7,196.2 L200.4,197.1" stroke="#23a523" stroke-width="2.9"/><path d="M218.6,173.6 L218.2,176.0" stroke="#45ee45" stroke-width="2.5"/><path d="M45.9,88.7 L45.2,88.9" stroke="#28b828" stroke-width="2.9"/><path d="M168.0,78.1 L170.1,78.8" stroke="#3de23d" stroke-width="2.9"/><path d="M32.2,146.9 L32.5,147.7" stroke="#2fcf2f" stroke-width="3.1"/><path d="M139.3,22.7 L138.3,22.8" stroke="#2fcf2f" stroke-width="2.7"/><path d="M179.0,80.3 L181.0,81.2" stroke="#23a523" stroke-width="2.6"/><path d="M36.4,160.7 L35.9,162.0" stroke="#45ee45" stroke-width="3.0"/><path d="M144.0,74.3 L143.0,76.1" stroke="#2fcf2f" stroke-width="2.9"/><path d="M6.2,77.7 L6.4,78.9" stroke="#1d8f1d" stroke-width="2.8"/><path d="M49.5,78.2 L49.1,79.2" stroke="#3de23d" stroke-width="2.5"/><path d="M179.2,209.4 L178.6,210.9" stroke="#28b828" stroke-width="2.8"/><path d="M135.2,46.7 L133.8,48.6" stroke="#1d8f1d" stroke-width="3.1"/><path d="M132.1,7.8 L133.8,8.5" stroke="#3de23d" stroke-width="2.8"/><path d="M98.1,78.6 L98.6,79.1" stroke="#28b828" stroke-width="3.1"/><path d="M106.5,169.7 L106.3,170.7" stroke="#23a523" stroke-width="2.8"/><path d="M131.7,61.8 L131.0,64.0" stroke="#28b828" stroke-width="2.5"/><path d="M193.2,67.7 L191.5,69.3" stroke="#2fcf2f" stroke-width="2.7"/><path d="M39.2,139.6 L41.3,139.8" stroke="#45ee45" stroke-width="2.5"/><path d="M230.5,217.9 L229.1,219.2" stroke="#28b828" stroke-width="3.1"/><path d="M210.4,143.4 L212.0,144.2" stroke="#3de23d" stroke-width="2.7"/><path d="M9.3,123.5 L9.9,123.9" stroke="#45ee45" stroke-width="2.8"/><path d="M63.3,132.6 L62.4,133.3" stroke="#1d8f1d" stroke-width="3.0"/><path d="M183.7,94.2 L183.8,95.7" stroke="#3de23d" stroke-width="2.7"/><path d="M145.9,159.9 L146.0,161.9" stroke="#28b828" stroke-width="3.2"/><path d="M194.9,198.9 L196.1,199.3" stroke="#45ee45" stroke-width="2.5"/><path d="M219.4,77.9 L218.0,78.4" stroke="#45ee45" stroke-width="2.7"/><path d="M14.2,168.2 L15.1,170.3" stroke="#1d8f1d" stroke-width="2.7"/><path d="M183.2,205.0 L185.3,205.9" stroke="#2fcf2f" stroke-width="2.8"/><path d="M117.7,93.3 L118.3,93.5" stroke="#1d8f1d" stroke-width="3.1"/><path d="M129.0,153.4 L126.6,153.4" stroke="#3de23d" stroke-width="3.0"/><path d="M203.8,86.5 L202.5,87.5" stroke="#23a523" stroke-width="2.6"/><path d="M174.4,131.5 L174.2,133.8" stroke="#3de23d" stroke-width="2.5"/><path d="M205.1,134.3 L206.1,135.2" stroke="#28b828" stroke-width="2.6"/><path d="M76.6,15.4 L77.3,17.5" stroke="#23a523" stroke-width="2.7"/><path d="M137.0,12.3 L137.3,12.8" stroke="#28b828" stroke-width="2.8"/><path d="M217.0,226.8 L218.1,227.7" stroke="#2fcf2f" stroke-width="3.1"/><path d="M164.0,14.9 L159.6,16.3" stroke="#28b828" stroke-width="2.0"/><path d="M149.7,160.4 L147.5,165.4" stroke="#23a523" stroke-width="2.1"/><path d="M206.8,12.5 L203.5,14.6" stroke="#1d8f1d" stroke-width="2.6"/><path d="M67.1,96.2 L63.3,101.6" stroke="#28b828" stroke-width="2.6"/><path d="M102.8,19.4 L106.7,21.0" stroke="#28b828" stroke-width="2.4"/><path d="M66.2,166.4 L62.0,169.6" stroke="#28b828" stroke-width="2.2"/><path d="M157.6,205.7 L152.0,206.1" stroke="#2fcf2f" stroke-width="2.5"/><path d="M41.8,53.5 L45.6,54.6" stroke="#1d8f1d" stroke-width="2.6"/><path d="M101.0,123.7 L106.3,123.8" stroke="#3de23d" stroke-width="2.4"/><path d="M124.3,97.5 L127.7,101.7" stroke="#2fcf2f" stroke-width="2.5"/><path d="M60.9,64.7 L56.6,68.0" stroke="#2fcf2f" stroke-width="2.1"/><path d="M208.0,142.2 L210.4,148.5" stroke="#23a523" stroke-width="2.6"/><path d="M120.0,42.7 L114.8,44.2" stroke="#1d8f1d" stroke-width="2.2"/><path d="M114.8,7.5 L112.4,11.3" stroke="#1d8f1d" stroke-width="2.3"/><path d="M218.7,41.0 L224.5,43.2" stroke="#2fcf2f" stroke-width="2.3"/><path d="M158.0,126.9 L154.5,129.6" stroke="#1d8f1d" stroke-width="2.1"/><path d="M113.0,51.0 L116.8,55.0" stroke="#45ee45" stroke-width="2.1"/><path d="M224.7,11.9 L227.3,16.3" stroke="#2fcf2f" stroke-width="2.4"/><path d="M140.7,185.9 L144.2,189.8" stroke="#1d8f1d" stroke-width="2.5"/><path d="M19.4,208.5 L18.1,213.8" stroke="#23a523" stroke-width="2.4"/><path d="M144.5,12.4 L147.2,16.5" stroke="#1d8f1d" stroke-width="2.4"/><path d="M124.5,60.5 L122.0,65.5" stroke="#3de23d" stroke-width="2.3"/><path d="M94.4,56.3 Q89.0,58.5 84.5,62.1" stroke="#1d8f1d" stroke-width="2.2"/><path d="M19.3,92.3 Q15.0,95.8 12.9,101.0" stroke="#2fcf2f" stroke-width="2.2"/><path d="M26.2,173.5 Q31.7,176.0 37.0,178.8" stroke="#2fcf2f" stroke-width="2.2"/><path d="M174.4,10.9 L173.5,11.2" stroke="#7a3a10" stroke-width="2.2"/><path d="M34.4,91.6 L34.9,93.5" stroke="#7a3a10" stroke-width="2.2"/><path d="M16.7,5.9 L22.6,13.9" stroke="#8a1a10" stroke-width="2.2"/><path d="M27.5,198.6 L31.4,199.7" stroke="#7a3a10" stroke-width="2.2"/><path d="M23,138 Q50,144 60,121" stroke="#3be03b" stroke-width="3"/><path d="M173,210 Q195,184 212,199" stroke="#3be03b" stroke-width="2.8"/><path d="M17,41.5 L37,41.5" stroke="#3be03b" stroke-width="2.8"/><path d="M96,57 L112,52" stroke="#3be03b" stroke-width="2.8"/><path d="M101,229 L114,221" stroke="#3be03b" stroke-width="2.8"/><path d="M100,62 L104,72" stroke="#3be03b" stroke-width="2.6"/><path d="M107,66 L104,58" stroke="#2fcf2f" stroke-width="2.2"/>
</g></svg>
<text x="1404.0" y="1724.5" font-size="27" text-anchor="middle" style="fill:#fff;stroke:#fff;stroke-width:0.35px">Ca(OH)<tspan font-size="17" dy="5">2</tspan></text>
<rect x="1526.80" y="1690.50" width="234.70" height="234.50" fill="#0b0d02" />
<svg x="1526.80" y="1690.50" width="234.70" height="234.50" overflow="hidden"><g filter="url(#soft)" fill="none" stroke-linecap="round">
<path d="M53.5,72.4 L55.3,73.9" stroke="#23a523" stroke-width="2.5"/><path d="M137.6,230.5 L136.4,232.1" stroke="#23a523" stroke-width="3.1"/><path d="M139.0,206.2 L137.6,206.5" stroke="#45ee45" stroke-width="2.6"/><path d="M88.8,13.0 L89.9,13.7" stroke="#2fcf2f" stroke-width="2.8"/><path d="M40.1,48.6 L39.5,49.3" stroke="#45ee45" stroke-width="2.8"/><path d="M114.7,146.2 L115.4,146.7" stroke="#45ee45" stroke-width="2.7"/><path d="M19.0,160.8 L18.6,161.9" stroke="#28b828" stroke-width="2.8"/><path d="M173.6,119.4 L172.6,120.7" stroke="#1d8f1d" stroke-width="2.6"/><path d="M84.2,36.9 L86.4,37.9" stroke="#28b828" stroke-width="2.6"/><path d="M195.4,28.3 L195.8,30.7" stroke="#45ee45" stroke-width="3.1"/><path d="M88.9,60.9 L91.1,61.3" stroke="#1d8f1d" stroke-width="2.7"/><path d="M56.6,11.3 L57.3,11.6" stroke="#23a523" stroke-width="2.6"/><path d="M97.3,111.6 L96.2,113.1" stroke="#23a523" stroke-width="2.6"/><path d="M169.7,155.4 L169.0,155.8" stroke="#2fcf2f" stroke-width="2.8"/><path d="M105.1,33.0 L106.3,34.0" stroke="#28b828" stroke-width="2.6"/><path d="M81.8,51.5 L81.4,51.9" stroke="#3de23d" stroke-width="2.8"/><path d="M5.1,176.7 L4.1,178.4" stroke="#1d8f1d" stroke-width="3.1"/><path d="M51.2,160.2 L52.6,161.5" stroke="#28b828" stroke-width="2.9"/><path d="M22.7,99.9 L22.8,101.2" stroke="#3de23d" stroke-width="3.1"/><path d="M67.3,163.8 L68.0,164.4" stroke="#45ee45" stroke-width="3.0"/><path d="M82.5,165.5 L83.3,166.9" stroke="#1d8f1d" stroke-width="2.7"/><path d="M36.2,135.5 L37.3,137.1" stroke="#23a523" stroke-width="3.1"/><path d="M209.5,28.9 L211.0,30.6" stroke="#45ee45" stroke-width="2.7"/><path d="M196.4,70.9 L198.3,71.4" stroke="#28b828" stroke-width="2.4"/><path d="M77.2,87.8 L76.1,88.2" stroke="#1d8f1d" stroke-width="2.9"/><path d="M91.0,79.6 L90.4,81.8" stroke="#3de23d" stroke-width="3.2"/><path d="M180.3,145.8 L179.7,147.4" stroke="#45ee45" stroke-width="2.5"/><path d="M17.1,108.9 L18.5,109.0" stroke="#45ee45" stroke-width="2.5"/><path d="M118.4,72.9 L119.5,73.4" stroke="#3de23d" stroke-width="2.6"/><path d="M55.2,158.7 L54.2,158.9" stroke="#3de23d" stroke-width="3.2"/><path d="M1.7,127.8 L3.9,128.4" stroke="#23a523" stroke-width="3.1"/><path d="M205.5,160.4 L206.5,162.2" stroke="#28b828" stroke-width="3.1"/><path d="M73.5,166.6 L75.1,167.5" stroke="#1d8f1d" stroke-width="2.6"/><path d="M38.6,78.0 L39.7,79.5" stroke="#23a523" stroke-width="2.7"/><path d="M86.1,155.5 L87.2,156.5" stroke="#1d8f1d" stroke-width="2.7"/><path d="M43.4,120.4 L42.6,120.4" stroke="#3de23d" stroke-width="3.1"/><path d="M207.1,72.8 L205.5,74.2" stroke="#23a523" stroke-width="2.8"/><path d="M39.0,200.7 L40.0,202.7" stroke="#3de23d" stroke-width="2.7"/><path d="M172.2,161.6 L172.9,162.3" stroke="#1d8f1d" stroke-width="3.0"/><path d="M78.3,78.4 L76.5,79.5" stroke="#23a523" stroke-width="2.9"/><path d="M99.7,164.4 L98.3,165.5" stroke="#28b828" stroke-width="2.5"/><path d="M89.4,156.2 L88.5,156.3" stroke="#2fcf2f" stroke-width="2.8"/><path d="M162.7,183.3 L161.4,185.2" stroke="#28b828" stroke-width="2.7"/><path d="M146.5,93.3 L148.8,93.6" stroke="#2fcf2f" stroke-width="3.0"/><path d="M29.4,11.2 L29.2,12.3" stroke="#1d8f1d" stroke-width="3.0"/><path d="M94.4,210.0 L96.3,211.1" stroke="#45ee45" stroke-width="2.5"/><path d="M102.9,201.6 L103.5,203.3" stroke="#2fcf2f" stroke-width="2.9"/><path d="M178.1,227.7 L179.1,228.5" stroke="#1d8f1d" stroke-width="2.6"/><path d="M203.0,103.7 L200.9,104.2" stroke="#23a523" stroke-width="2.6"/><path d="M114.3,29.3 L115.0,30.2" stroke="#3de23d" stroke-width="2.9"/><path d="M65.1,93.7 L65.2,94.8" stroke="#3de23d" stroke-width="2.7"/><path d="M62.0,13.5 L61.7,14.1" stroke="#28b828" stroke-width="2.4"/><path d="M79.4,31.1 L79.7,37.3" stroke="#45ee45" stroke-width="2.2"/><path d="M188.8,91.5 L187.5,95.0" stroke="#23a523" stroke-width="2.5"/><path d="M62.5,45.4 L58.0,45.5" stroke="#2fcf2f" stroke-width="2.3"/><path d="M196.4,168.7 L192.3,169.5" stroke="#3de23d" stroke-width="2.3"/><path d="M156.7,63.0 L158.7,66.0" stroke="#23a523" stroke-width="2.3"/><path d="M7.0,48.1 L1.9,52.7" stroke="#3de23d" stroke-width="2.2"/><path d="M60.7,213.6 L56.4,216.6" stroke="#28b828" stroke-width="2.5"/><path d="M178.5,227.4 L179.7,231.1" stroke="#45ee45" stroke-width="2.4"/><path d="M58.2,210.9 L61.4,212.4" stroke="#23a523" stroke-width="2.2"/><path d="M170.0,116.6 L168.2,120.7" stroke="#28b828" stroke-width="2.3"/><path d="M71.2,16.5 L76.8,18.2" stroke="#23a523" stroke-width="2.2"/><path d="M171.3,48.2 L174.9,53.2" stroke="#23a523" stroke-width="2.1"/><path d="M81.6,35.5 L82.7,40.2" stroke="#2fcf2f" stroke-width="2.0"/><path d="M120.0,93.9 L115.9,96.1" stroke="#23a523" stroke-width="2.5"/><path d="M5.0,41.6 L8.6,42.9" stroke="#23a523" stroke-width="2.6"/><path d="M102.9,222.5 L99.6,225.3" stroke="#45ee45" stroke-width="2.5"/><path d="M191.7,17.2 L187.2,19.0" stroke="#28b828" stroke-width="2.5"/><path d="M122.0,1.5 L124.3,7.1" stroke="#1d8f1d" stroke-width="2.4"/><path d="M52.3,141.0 L49.7,147.1" stroke="#1d8f1d" stroke-width="2.3"/><path d="M135.2,26.0 L130.7,30.6" stroke="#1d8f1d" stroke-width="2.3"/><path d="M110.6,192.3 L109.0,197.3" stroke="#45ee45" stroke-width="2.3"/><path d="M119.1,7.2 L122.7,11.6" stroke="#45ee45" stroke-width="2.0"/><path d="M17.3,76.8 L11.9,76.9" stroke="#28b828" stroke-width="2.4"/><path d="M70.8,171.2 L77.6,172.4" stroke="#45ee45" stroke-width="2.6"/><path d="M177.4,207.9 L174.0,209.8" stroke="#2fcf2f" stroke-width="2.4"/><path d="M216.1,190.9 L220.5,195.4" stroke="#23a523" stroke-width="2.2"/><path d="M46.6,9.5 L42.7,12.2" stroke="#23a523" stroke-width="2.3"/><path d="M127.8,201.3 L123.7,201.8" stroke="#28b828" stroke-width="2.1"/><path d="M23.8,102.8 L29.7,104.2" stroke="#2fcf2f" stroke-width="2.3"/><path d="M17.7,200.5 L12.1,204.6" stroke="#3de23d" stroke-width="2.1"/><path d="M88.2,24.9 L84.6,25.4" stroke="#28b828" stroke-width="2.1"/><path d="M71.1,96.6 L66.0,99.2" stroke="#3de23d" stroke-width="2.4"/><path d="M210.4,15.1 L209.7,22.0" stroke="#2fcf2f" stroke-width="2.2"/><path d="M221.8,223.1 L223.8,228.2" stroke="#45ee45" stroke-width="2.5"/><path d="M165.6,190.2 Q162.9,196.5 161.3,203.2" stroke="#1d8f1d" stroke-width="2.2"/><path d="M37.5,30.7 Q43.8,30.9 49.9,32.3" stroke="#45ee45" stroke-width="2.2"/><path d="M56.7,77.8 Q60.8,82.5 66.6,84.8" stroke="#28b828" stroke-width="2.2"/><path d="M165.6,168.1 Q162.2,172.4 157.5,175.3" stroke="#28b828" stroke-width="2.2"/><path d="M17.0,58.1 Q18.6,63.2 20.0,68.5" stroke="#23a523" stroke-width="2.2"/><path d="M118.1,218.4 L119.6,219.7" stroke="#7a3a10" stroke-width="2.2"/><path d="M136.2,66.8 L135.1,68.5" stroke="#a01c12" stroke-width="2.2"/><path d="M108.3,215.8 L105.6,218.7" stroke="#8a1a10" stroke-width="2.2"/><path d="M140.6,105.1 L140.8,105.6" stroke="#b82a18" stroke-width="2.2"/><path d="M67.4,102.8 L66.4,104.5" stroke="#b82a18" stroke-width="2.2"/><path d="M4.8,142.5 L5.0,143.0" stroke="#7a3a10" stroke-width="2.2"/><path d="M137.6,200.1 L140.2,203.2" stroke="#7a3a10" stroke-width="2.2"/><path d="M26.1,201.4 L25.0,208.3" stroke="#a01c12" stroke-width="2.2"/><path d="M24.7,208.6 L25.2,208.7" stroke="#b82a18" stroke-width="2.2"/><path d="M14.0,137.9 L4.0,138.2" stroke="#b82a18" stroke-width="2.2"/><path d="M97,90 Q104,80 110,73" stroke="#3be03b" stroke-width="2.8"/><path d="M105,80 L116,78" stroke="#2fcf2f" stroke-width="2.2"/><path d="M199,213 Q215,212 234,202" stroke="#2fcf2f" stroke-width="2.6"/><path d="M116,199 Q124,206 134,205" stroke="#3be03b" stroke-width="2.8"/><path d="M110,233 L118,221" stroke="#3be03b" stroke-width="2.8"/><path d="M61,14 L91,7" stroke="#28b828" stroke-width="2.2"/><path d="M23,119 L35,115" stroke="#2fcf2f" stroke-width="2.4"/><path d="M15,164 L22,156" stroke="#2fcf2f" stroke-width="2.4"/><path d="M34,164 L37,154" stroke="#3be03b" stroke-width="2.6"/>
</g></svg>
<text x="1644.0" y="1724.5" font-size="27" text-anchor="middle" style="fill:#fff;stroke:#fff;stroke-width:0.35px">SLBGs</text>
<rect x="805.50" y="2008.00" width="234.50" height="234.30" fill="#0b0d02" />
<svg x="805.50" y="2008.00" width="234.50" height="234.30" overflow="hidden"><g filter="url(#soft)" fill="none" stroke-linecap="round">
<path d="M189.9,202.2 L190.1,204.0" stroke="#2fcf2f" stroke-width="2.7"/><path d="M108.2,74.6 L110.1,75.0" stroke="#23a523" stroke-width="2.6"/><path d="M7.1,183.3 L6.5,184.5" stroke="#2fcf2f" stroke-width="3.0"/><path d="M232.5,16.9 L231.4,17.8" stroke="#45ee45" stroke-width="3.1"/><path d="M121.4,135.8 L121.3,137.3" stroke="#2fcf2f" stroke-width="2.5"/><path d="M185.6,1.7 L184.7,3.9" stroke="#1d8f1d" stroke-width="3.0"/><path d="M60.2,187.9 L60.6,189.8" stroke="#3de23d" stroke-width="2.5"/><path d="M86.5,86.0 L88.5,86.7" stroke="#3de23d" stroke-width="2.7"/><path d="M130.7,225.6 L131.9,227.2" stroke="#3de23d" stroke-width="2.8"/><path d="M30.7,132.4 L30.7,133.2" stroke="#3de23d" stroke-width="2.6"/><path d="M82.5,58.5 L84.1,58.8" stroke="#45ee45" stroke-width="2.6"/><path d="M106.7,130.1 L105.5,130.9" stroke="#3de23d" stroke-width="2.8"/><path d="M35.3,131.6 L35.0,132.4" stroke="#23a523" stroke-width="3.1"/><path d="M224.4,97.0 L223.9,97.4" stroke="#2fcf2f" stroke-width="2.5"/><path d="M171.4,88.7 L172.5,88.8" stroke="#23a523" stroke-width="2.5"/><path d="M71.0,223.7 L71.6,225.4" stroke="#3de23d" stroke-width="2.6"/><path d="M51.0,124.8 L51.9,126.4" stroke="#45ee45" stroke-width="2.8"/><path d="M153.9,206.1 L151.6,206.3" stroke="#23a523" stroke-width="3.1"/><path d="M24.0,145.7 L24.8,146.5" stroke="#23a523" stroke-width="2.7"/><path d="M100.6,111.3 L101.2,112.4" stroke="#45ee45" stroke-width="2.5"/><path d="M73.8,123.9 L73.7,124.7" stroke="#45ee45" stroke-width="2.7"/><path d="M53.1,24.3 L53.6,25.4" stroke="#28b828" stroke-width="3.2"/><path d="M121.5,122.4 L122.1,124.3" stroke="#28b828" stroke-width="3.2"/><path d="M4.8,138.5 L2.4,138.8" stroke="#28b828" stroke-width="3.0"/><path d="M195.1,49.5 L196.2,51.2" stroke="#3de23d" stroke-width="2.8"/><path d="M120.7,175.4 L121.2,175.8" stroke="#3de23d" stroke-width="2.9"/><path d="M187.9,218.5 L188.4,220.2" stroke="#28b828" stroke-width="2.6"/><path d="M158.1,20.6 L159.3,22.7" stroke="#28b828" stroke-width="2.7"/><path d="M191.8,183.5 L190.0,183.5" stroke="#3de23d" stroke-width="2.8"/><path d="M93.3,20.9 L92.9,21.7" stroke="#28b828" stroke-width="2.4"/><path d="M219.7,173.9 L215.0,176.8" stroke="#3de23d" stroke-width="2.3"/><path d="M76.5,144.3 L82.2,147.8" stroke="#3de23d" stroke-width="2.1"/><path d="M159.4,31.2 L160.6,37.3" stroke="#1d8f1d" stroke-width="2.1"/><path d="M77.6,170.9 L73.9,171.5" stroke="#3de23d" stroke-width="2.2"/><path d="M192.0,163.5 L195.4,168.4" stroke="#45ee45" stroke-width="2.6"/><path d="M130.0,212.6 L132.2,216.2" stroke="#45ee45" stroke-width="2.1"/><path d="M218.2,37.5 L222.6,37.9" stroke="#45ee45" stroke-width="2.3"/><path d="M88.4,154.0 L89.7,160.6" stroke="#45ee45" stroke-width="2.5"/><path d="M122.0,111.2 L117.9,114.7" stroke="#2fcf2f" stroke-width="2.2"/><path d="M6.2,188.8 L4.6,194.4" stroke="#45ee45" stroke-width="2.3"/><path d="M94.0,132.1 L89.1,136.4" stroke="#28b828" stroke-width="2.1"/><path d="M162.8,92.0 L165.7,94.6" stroke="#45ee45" stroke-width="2.2"/><path d="M172.1,133.1 L168.6,135.7" stroke="#3de23d" stroke-width="2.2"/><path d="M58.7,47.9 L57.4,54.4" stroke="#3de23d" stroke-width="2.6"/><path d="M209.5,105.5 L213.8,108.4" stroke="#2fcf2f" stroke-width="2.4"/><path d="M157.7,115.5 L159.5,119.1" stroke="#1d8f1d" stroke-width="2.1"/><path d="M117.1,113.3 L112.9,116.2" stroke="#28b828" stroke-width="2.1"/><path d="M184.2,50.8 L181.3,53.9" stroke="#23a523" stroke-width="2.2"/><path d="M40.7,44.1 L38.4,47.5" stroke="#28b828" stroke-width="2.2"/><path d="M223.5,167.4 L219.0,167.6" stroke="#1d8f1d" stroke-width="2.1"/><path d="M82.5,39.1 L86.5,44.4" stroke="#1d8f1d" stroke-width="2.2"/><path d="M34.1,112.3 L30.5,115.0" stroke="#28b828" stroke-width="2.6"/><path d="M39.9,90.3 L34.2,93.1" stroke="#23a523" stroke-width="2.4"/><path d="M128.9,168.9 L125.7,173.2" stroke="#1d8f1d" stroke-width="2.4"/><path d="M151.7,67.6 Q149.1,72.5 146.6,77.5" stroke="#28b828" stroke-width="2.2"/><path d="M118.2,159.1 Q112.9,160.0 107.6,161.0" stroke="#2fcf2f" stroke-width="2.2"/><path d="M127.7,80.6 Q132.0,83.6 137.2,84.0" stroke="#23a523" stroke-width="2.2"/><path d="M153.7,18.5 L153.2,18.6" stroke="#a01c12" stroke-width="2.2"/><path d="M223.1,46.1 L224.0,47.9" stroke="#b82a18" stroke-width="2.2"/><path d="M29.9,218.5 L39.0,222.7" stroke="#a01c12" stroke-width="2.2"/><path d="M96.3,30.0 L98.3,39.8" stroke="#a01c12" stroke-width="2.2"/><path d="M160.3,17.1 L156.9,26.5" stroke="#b82a18" stroke-width="2.2"/><path d="M215.1,204.5 L215.5,204.7" stroke="#7a3a10" stroke-width="2.2"/><path d="M46.2,161.6 L46.7,161.8" stroke="#a01c12" stroke-width="2.2"/><path d="M76.1,78.3 L66.3,80.2" stroke="#b82a18" stroke-width="2.2"/><path d="M227.5,220.7 L226.5,220.9" stroke="#7a3a10" stroke-width="2.2"/><path d="M10.1,114.0 L3.2,115.5" stroke="#b82a18" stroke-width="2.2"/><path d="M21.7,121.5 L22.1,121.7" stroke="#a01c12" stroke-width="2.2"/><path d="M202.1,222.4 L202.6,222.5" stroke="#7a3a10" stroke-width="2.2"/><path d="M189.8,160.5 L196.8,160.6" stroke="#a01c12" stroke-width="2.2"/><path d="M17.1,183.0 L18.2,186.8" stroke="#8a1a10" stroke-width="2.2"/><path d="M79.2,81.7 L79.5,82.0" stroke="#8a1a10" stroke-width="2.2"/><path d="M136.8,122.2 L137.1,124.2" stroke="#b82a18" stroke-width="2.2"/><path d="M55.6,204.9 L56.5,205.3" stroke="#8a1a10" stroke-width="2.2"/><path d="M59.7,111.6 L61.1,113.0" stroke="#8a1a10" stroke-width="2.2"/><path d="M153.6,58.5 L152.0,65.3" stroke="#b82a18" stroke-width="2.2"/><path d="M7.2,73.3 L7.1,73.8" stroke="#b82a18" stroke-width="2.2"/><path d="M172.5,48.8 L172.4,49.3" stroke="#8a1a10" stroke-width="2.2"/><path d="M19.7,177.5 L20.5,178.1" stroke="#7a3a10" stroke-width="2.2"/><path d="M49,53 Q66,35 98,24" stroke="#2fcf2f" stroke-width="2.4"/><path d="M8,33 L32,34" stroke="#7a8a1a" stroke-width="2.2"/><path d="M20,170 Q30,173 44,170" stroke="#2fcf2f" stroke-width="2.2"/><path d="M92,154 L108,150" stroke="#2fcf2f" stroke-width="2.4"/><path d="M215,190 L231,187" stroke="#4a8a1a" stroke-width="2.2"/><path d="M220,149 Q230,170 233,196" stroke="#a02818" stroke-width="2.2"/><path d="M38,28 L56,24" stroke="#a02818" stroke-width="2.2"/><path d="M153,197 L163,198" stroke="#3be03b" stroke-width="2.6"/><path d="M96,224 L101,220" stroke="#45ee45" stroke-width="2.8"/>
</g></svg>
<text x="929.0" y="2042.0" font-size="27" text-anchor="middle" style="fill:#fff;stroke:#fff;stroke-width:0.35px">Control</text>
<rect x="1045.40" y="2008.00" width="234.80" height="234.30" fill="#0b0d02" />
<svg x="1045.40" y="2008.00" width="234.80" height="234.30" overflow="hidden"><g filter="url(#soft)" fill="none" stroke-linecap="round">
<path d="M97.0,229.8 L98.2,230.1" stroke="#28b828" stroke-width="2.5"/><path d="M195.3,231.9 L194.3,232.7" stroke="#1d8f1d" stroke-width="2.7"/><path d="M185.0,89.3 L183.9,89.5" stroke="#23a523" stroke-width="2.5"/><path d="M226.8,211.7 L227.0,212.3" stroke="#3de23d" stroke-width="2.5"/><path d="M213.5,35.0 L212.6,35.1" stroke="#45ee45" stroke-width="3.1"/><path d="M80.7,216.0 L81.1,216.7" stroke="#1d8f1d" stroke-width="2.4"/><path d="M57.2,163.4 L56.3,163.8" stroke="#1d8f1d" stroke-width="2.9"/><path d="M87.9,169.2 L85.6,169.6" stroke="#2fcf2f" stroke-width="2.5"/><path d="M44.5,81.8 L44.8,82.3" stroke="#28b828" stroke-width="2.9"/><path d="M66.0,121.5 L64.4,122.9" stroke="#45ee45" stroke-width="2.8"/><path d="M221.1,20.7 L220.1,20.9" stroke="#3de23d" stroke-width="3.2"/><path d="M217.8,157.5 L217.4,158.3" stroke="#28b828" stroke-width="2.5"/><path d="M113.9,206.9 L113.4,208.5" stroke="#28b828" stroke-width="3.1"/><path d="M108.1,45.8 L110.5,46.0" stroke="#1d8f1d" stroke-width="3.0"/><path d="M94.3,13.6 L94.6,14.3" stroke="#2fcf2f" stroke-width="3.1"/><path d="M224.1,7.0 L223.6,8.2" stroke="#45ee45" stroke-width="2.5"/><path d="M7.5,80.4 L7.9,81.1" stroke="#3de23d" stroke-width="3.1"/><path d="M131.4,160.0 L132.0,160.8" stroke="#1d8f1d" stroke-width="2.7"/><path d="M206.2,135.2 L205.8,136.4" stroke="#23a523" stroke-width="2.6"/><path d="M222.0,114.8 L220.3,115.6" stroke="#23a523" stroke-width="3.1"/><path d="M40.4,118.4 L38.6,120.0" stroke="#28b828" stroke-width="3.1"/><path d="M75.0,129.7 L73.7,129.9" stroke="#1d8f1d" stroke-width="2.6"/><path d="M23.8,160.1 L24.9,160.5" stroke="#23a523" stroke-width="3.0"/><path d="M186.8,150.9 L186.8,152.8" stroke="#1d8f1d" stroke-width="2.6"/><path d="M134.1,146.9 L134.9,148.1" stroke="#3de23d" stroke-width="2.9"/><path d="M16.2,34.7 L16.3,35.2" stroke="#23a523" stroke-width="2.5"/><path d="M185.9,55.2 L187.4,56.8" stroke="#3de23d" stroke-width="3.1"/><path d="M118.3,99.3 L118.3,101.0" stroke="#3de23d" stroke-width="2.8"/><path d="M71.6,195.1 L66.5,196.3" stroke="#28b828" stroke-width="2.4"/><path d="M163.4,104.2 L159.0,105.3" stroke="#1d8f1d" stroke-width="2.4"/><path d="M183.1,164.7 L189.0,167.0" stroke="#2fcf2f" stroke-width="2.3"/><path d="M168.4,9.4 L165.4,15.0" stroke="#23a523" stroke-width="2.3"/><path d="M152.9,156.5 L148.4,158.5" stroke="#1d8f1d" stroke-width="2.6"/><path d="M37.6,59.9 L40.1,63.7" stroke="#45ee45" stroke-width="2.1"/><path d="M163.8,173.5 L160.7,179.7" stroke="#23a523" stroke-width="2.4"/><path d="M158.4,100.9 L154.5,104.0" stroke="#45ee45" stroke-width="2.5"/><path d="M131.2,217.4 L135.5,221.1" stroke="#45ee45" stroke-width="2.4"/><path d="M9.1,203.8 L13.0,207.2" stroke="#2fcf2f" stroke-width="2.4"/><path d="M27.5,35.4 L30.8,39.2" stroke="#45ee45" stroke-width="2.1"/><path d="M149.8,157.1 L153.3,163.0" stroke="#28b828" stroke-width="2.0"/><path d="M10.9,124.4 L5.4,125.0" stroke="#28b828" stroke-width="2.5"/><path d="M76.3,65.8 L81.5,66.9" stroke="#45ee45" stroke-width="2.1"/><path d="M162.6,11.4 L166.9,15.7" stroke="#23a523" stroke-width="2.1"/><path d="M134.9,55.5 L137.2,59.6" stroke="#3de23d" stroke-width="2.6"/><path d="M69.4,196.9 L71.1,203.2" stroke="#23a523" stroke-width="2.2"/><path d="M55.6,107.8 L57.1,114.5" stroke="#3de23d" stroke-width="2.3"/><path d="M101.0,146.0 L95.0,147.9" stroke="#23a523" stroke-width="2.2"/><path d="M124.7,230.2 L129.2,233.1" stroke="#2fcf2f" stroke-width="2.6"/><path d="M145.8,37.6 Q142.7,44.0 142.2,51.0" stroke="#1d8f1d" stroke-width="2.2"/><path d="M63.3,181.1 Q64.1,185.6 64.5,190.2" stroke="#3de23d" stroke-width="2.2"/><path d="M26.8,110.4 L26.4,112.3" stroke="#a01c12" stroke-width="2.2"/><path d="M5.7,107.6 L-0.7,110.5" stroke="#7a3a10" stroke-width="2.2"/><path d="M230.2,112.0 L233.2,121.5" stroke="#8a1a10" stroke-width="2.2"/><path d="M148.5,158.4 L155.4,159.4" stroke="#7a3a10" stroke-width="2.2"/><path d="M165.9,31.4 L166.1,31.8" stroke="#7a3a10" stroke-width="2.2"/><path d="M92.3,168.5 L88.6,177.8" stroke="#7a3a10" stroke-width="2.2"/><path d="M55.0,58.3 L45.0,58.7" stroke="#7a3a10" stroke-width="2.2"/><path d="M201.2,210.9 L206.1,219.6" stroke="#a01c12" stroke-width="2.2"/><path d="M10.5,190.7 L3.7,198.0" stroke="#7a3a10" stroke-width="2.2"/><path d="M202.9,45.9 L202.6,46.3" stroke="#a01c12" stroke-width="2.2"/><path d="M105.2,84.3 L105.8,88.2" stroke="#8a1a10" stroke-width="2.2"/><path d="M75.6,143.8 L74.1,147.5" stroke="#b82a18" stroke-width="2.2"/><path d="M25.0,166.9 L20.2,175.7" stroke="#7a3a10" stroke-width="2.2"/><path d="M159.8,116.7 L157.1,119.6" stroke="#a01c12" stroke-width="2.2"/><path d="M69.7,165.3 L71.1,172.2" stroke="#7a3a10" stroke-width="2.2"/><path d="M152.9,53.8 L152.8,54.3" stroke="#b82a18" stroke-width="2.2"/><path d="M91.6,194.7 L93.0,196.2" stroke="#7a3a10" stroke-width="2.2"/><path d="M145.6,52.8 L141.6,52.9" stroke="#b82a18" stroke-width="2.2"/><path d="M14,12 L27,16" stroke="#b02818" stroke-width="2.4"/><path d="M47,12 L56,13" stroke="#3be03b" stroke-width="2.6"/><path d="M11,102 Q15,97 23,97" stroke="#2fcf2f" stroke-width="2.4"/><path d="M27,86 L38,88" stroke="#2fcf2f" stroke-width="2.6"/><path d="M181,122 L183,125" stroke="#45ee45" stroke-width="3"/>
</g></svg>
<text x="1165.5" y="2042.0" font-size="27" text-anchor="middle" style="fill:#fff;stroke:#fff;stroke-width:0.35px">CaCO<tspan font-size="17" dy="5">3</tspan></text>
<rect x="1286.20" y="2008.00" width="234.80" height="234.30" fill="#0b0d02" />
<svg x="1286.20" y="2008.00" width="234.80" height="234.30" overflow="hidden"><g filter="url(#soft)" fill="none" stroke-linecap="round">
<path d="M166.1,70.0 l0.6,0.3" stroke="#c81e14" stroke-width="2.6"/><path d="M199.3,140.8 l0.6,0.3" stroke="#c81e14" stroke-width="2.6"/><path d="M70.3,229.0 l0.6,0.3" stroke="#c81e14" stroke-width="2.6"/><path d="M75.2,229.8 l0.6,0.3" stroke="#c81e14" stroke-width="2.6"/><path d="M80.1,230.3 l0.6,0.3" stroke="#c81e14" stroke-width="2.6"/><path d="M85.0,230.4 l0.6,0.3" stroke="#c81e14" stroke-width="2.6"/><path d="M89.9,230.1 l0.6,0.3" stroke="#c81e14" stroke-width="2.6"/><path d="M94.8,229.5 l0.6,0.3" stroke="#c81e14" stroke-width="2.6"/><path d="M99.6,228.5 l0.6,0.3" stroke="#c81e14" stroke-width="2.6"/><path d="M104.5,227.2 l0.6,0.3" stroke="#c81e14" stroke-width="2.6"/><path d="M109.3,225.5 l0.6,0.3" stroke="#c81e14" stroke-width="2.6"/>
</g></svg>
<text x="1404.0" y="2042.0" font-size="27" text-anchor="middle" style="fill:#fff;stroke:#fff;stroke-width:0.35px">Ca(OH)<tspan font-size="17" dy="5">2</tspan></text>
<rect x="1526.80" y="2008.00" width="234.70" height="234.30" fill="#0b0d02" />
<svg x="1526.80" y="2008.00" width="234.70" height="234.30" overflow="hidden"><g filter="url(#soft)" fill="none" stroke-linecap="round">
<path d="M179.0,75.8 l0.6,0.3" stroke="#c81e14" stroke-width="2.6"/><path d="M111.2,127.8 l0.6,0.3" stroke="#c81e14" stroke-width="2.6"/><path d="M21.1,226.8 l0.6,0.3" stroke="#c81e14" stroke-width="2.6"/><path d="M97.6,205.2 l0.6,0.3" stroke="#c81e14" stroke-width="2.6"/><path d="M17.3,36.0 l0.6,0.3" stroke="#c81e14" stroke-width="2.6"/><path d="M17.6,40.0 l0.6,0.3" stroke="#c81e14" stroke-width="2.6"/><path d="M17.3,44.0 l0.6,0.3" stroke="#c81e14" stroke-width="2.6"/><path d="M174.0,3.7 l0.6,0.3" stroke="#c81e14" stroke-width="2.6"/><path d="M179.0,3.9 l0.6,0.3" stroke="#c81e14" stroke-width="2.6"/><path d="M184.0,3.5 l0.6,0.3" stroke="#c81e14" stroke-width="2.6"/><path d="M106.8,204.3 l0.6,0.3" stroke="#c81e14" stroke-width="2.6"/><path d="M107.8,200.3 l0.6,0.3" stroke="#c81e14" stroke-width="2.6"/><path d="M108.7,196.2 l0.6,0.3" stroke="#c81e14" stroke-width="2.6"/><path d="M109.7,192.2 l0.6,0.3" stroke="#c81e14" stroke-width="2.6"/><path d="M110.6,188.1 l0.6,0.3" stroke="#c81e14" stroke-width="2.6"/><path d="M111.6,184.1 l0.6,0.3" stroke="#c81e14" stroke-width="2.6"/><path d="M112.5,180.0 l0.6,0.3" stroke="#c81e14" stroke-width="2.6"/><path d="M113.5,176.0 l0.6,0.3" stroke="#c81e14" stroke-width="2.6"/>
</g></svg>
<text x="1648.0" y="2042.0" font-size="27" text-anchor="middle" style="fill:#fff;stroke:#fff;stroke-width:0.35px">SLBGs</text>
<rect x="1628.00" y="2229.60" width="130.00" height="6.00" fill="#fff" />
</svg></body></html>
